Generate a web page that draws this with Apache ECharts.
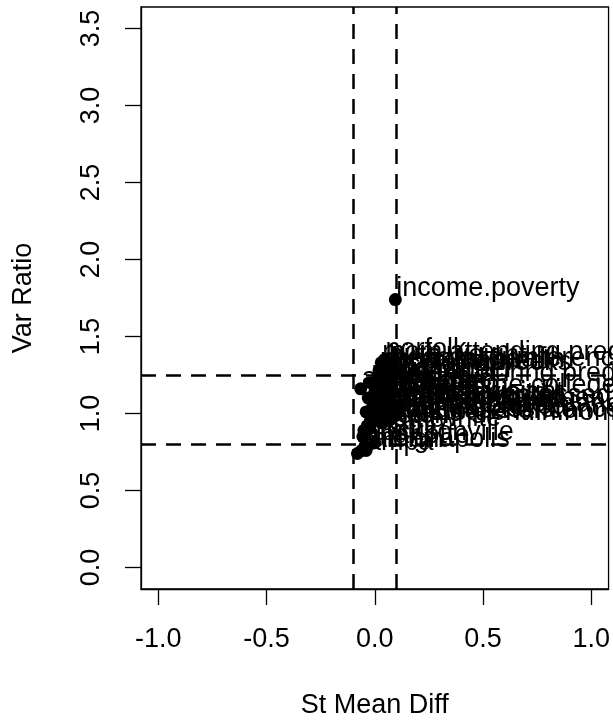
<!DOCTYPE html>
<html>
<head>
<meta charset="utf-8">
<script src="https://cdn.jsdelivr.net/npm/echarts@6/dist/echarts.min.js"></script>
<style>
  html, body { margin: 0; padding: 0; background: #fff; }
  #chart { width: 613px; height: 725px; }
</style>
</head>
<body>
<div id="chart"></div>
<script>
// Balance diagnostics: standardized mean difference vs. variance ratio per covariate
const covariates = [
  "income.poverty", "norfolk", "mom.attending.pregnancy", "birth.weight",
  "head.circumference", "neonatal.health", "mom.married", "preterm.weeks",
  "working.during.pregnancy", "first.born", "birth.order", "atlanta",
  "mom.age", "male", "twin", "black", "hispanic", "mom.lths", "mom.hs",
  "mom.some.college", "cigarettes", "alcohol", "drugs", "mother.depressed",
  "prenatal.visits", "days.in.hospital", "daycare.attendance", "mom.employed",
  "dad.present", "siblings", "housing.assistance", "public.assistance",
  "jacksonville", "boston", "seattle", "charlotte", "indianapolis",
  "raleigh", "tampa", "miami",
  "breastfed", "low.birth.weight", "home.environment", "father.employed",
  "grandparent.in.home", "mom.white"
];
const stMeanDiff = [
  0.095, 0.045, 0.030, 0.060,
  0.075, 0.020, 0.050, 0.085,
  0.015, 0.040, 0.070, -0.065,
  0.010, -0.020, 0.035, 0.055, 0.080, 0.000, 0.025,
  0.065, -0.030, 0.045, 0.010, 0.090,
  0.030, -0.010, 0.100, 0.020,
  -0.040, 0.050, 0.070, -0.020,
  0.000, -0.035, -0.050, -0.045, -0.040,
  -0.060, -0.080, -0.055,
  0.040, 0.015, 0.060, -0.005,
  0.030, -0.025
];
const varRatio = [
  1.74, 1.35, 1.33, 1.31,
  1.29, 1.28, 1.27, 1.26,
  1.19, 1.24, 1.22, 1.16,
  1.21, 1.20, 1.18, 1.17, 1.15, 1.14, 1.12,
  1.11, 1.10, 1.09, 1.08, 1.05,
  1.06, 1.04, 0.99, 1.02,
  1.01, 0.97, 0.96, 0.95,
  0.81, 0.92, 0.89, 0.79, 0.76,
  0.76, 0.74, 0.85,
  1.13, 1.07, 1.03, 0.98,
  0.94, 0.90
];
const xTicks = [-1.0, -0.5, 0.0, 0.5, 1.0];
const yTicks = [0.0, 0.5, 1.0, 1.5, 2.0, 2.5, 3.0, 3.5];
const smdCutoffs = [-0.1, 0.1];
const ratioCutoffs = [0.8, 1.25];

const FONT = "Liberation Sans, Arial, Helvetica, sans-serif";
const points = covariates.map((name, i) => ({ name: name, value: [stMeanDiff[i], varRatio[i]] }));

const chart = echarts.init(document.getElementById('chart'), null, { renderer: 'canvas' });
chart.setOption({
  animation: false,
  backgroundColor: '#fff',
  textStyle: { fontFamily: FONT },
  grid: {
    left: 141, right: 4, top: 7, bottom: 136,
    show: true, borderColor: '#000', borderWidth: 1.3, backgroundColor: 'transparent'
  },
  xAxis: {
    type: 'value', min: -1.08, max: 1.08,
    name: 'St Mean Diff', nameLocation: 'middle', nameGap: 103,
    nameTextStyle: { fontSize: 27, color: '#000', fontFamily: FONT },
    axisLine: { show: true, onZero: false, lineStyle: { color: '#000', width: 1.3 } },
    axisTick: { show: true, inside: false, length: 16, customValues: xTicks, lineStyle: { color: '#000', width: 1.3 } },
    axisLabel: { customValues: xTicks, fontSize: 27, color: '#000', margin: 37, fontFamily: FONT,
      formatter: v => v.toFixed(1) },
    splitLine: { show: false }
  },
  yAxis: {
    type: 'value', min: -0.14, max: 3.64,
    name: 'Var Ratio', nameLocation: 'middle', nameGap: 104, nameRotate: 90,
    nameTextStyle: { fontSize: 27, color: '#000', fontFamily: FONT },
    axisLine: { show: true, onZero: false, lineStyle: { color: '#000', width: 1.3 } },
    axisTick: { show: true, inside: false, length: 16, customValues: yTicks, lineStyle: { color: '#000', width: 1.3 } },
    axisLabel: { customValues: yTicks, fontSize: 27, color: '#000', margin: 36, rotate: 90, fontFamily: FONT,
      formatter: v => v.toFixed(1) },
    splitLine: { show: false }
  },
  series: [{
    type: 'scatter',
    data: points,
    symbol: 'circle',
    symbolSize: 13,
    itemStyle: { color: '#000', opacity: 1 },
    clip: false,
    label: {
      show: true,
      formatter: '{b}',
      position: [7.5, 9.5],
      align: 'left',
      verticalAlign: 'bottom',
      fontSize: 27,
      color: '#000',
      textBorderWidth: 0,
      fontFamily: FONT
    },
    labelLayout: { hideOverlap: false },
    emphasis: { disabled: true },
    markLine: {
      silent: true,
      symbol: ['none', 'none'],
      label: { show: false },
      lineStyle: { color: '#000', width: 2.5, type: [15, 10], opacity: 1 },
      data: smdCutoffs.map(v => ({ xAxis: v })).concat(ratioCutoffs.map(v => ({ yAxis: v })))
    }
  }]
});
</script>
</body>
</html>
